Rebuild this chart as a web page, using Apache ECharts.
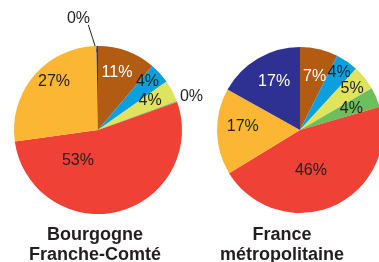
<!DOCTYPE html>
<html><head><meta charset="utf-8">
<script src="https://cdn.jsdelivr.net/npm/echarts@6/dist/echarts.min.js"></script>
<style>html,body{margin:0;padding:0;background:#fff}#c{width:379px;height:262px}</style>
</head><body><div id="c"></div>
<script>
// ---- data ----
const categories = ['Catégorie 1', 'Catégorie 2', 'Catégorie 3', 'Catégorie 4', 'Catégorie 5', 'Catégorie 6', 'Catégorie 7'];
const regions = ['Bourgogne\nFranche-Comté', 'France\nmétropolitaine'];
const bfcValues = [11.2, 4.0, 4.2, 0.2, 53.2, 26.9, 0.3];
const franceValues = [7.4, 4.4, 4.8, 3.9, 45.8, 16.8, 16.9];

// ---- styles ----
const colors = ['#b25b13', '#0aa0de', '#dfe35d', '#6dbf5c', '#ef4136', '#fbb634', '#2e3191'];
const labelColors = ['#ffffff', '#231f20', '#231f20', '#231f20', '#231f20', '#231f20', '#ffffff'];
const DARK = '#231f20';
const FONT = 'Liberation Sans, Arial, sans-serif';
const pies = [
  { center: [98, 130], radius: 84, titleX: 95,
    // label placement: [angle from 12 o'clock (deg), distance as fraction of radius]
    place: [[18.4, 0.715], [45.9, 0.82], [60.9, 0.71], [70.6, 1.18], [212.8, 0.44], [317.8, 0.78], [350.1, 1.35]],
    outside: [false, false, false, true, false, false, true],
    leader: [false, false, false, false, false, false, true] },
  { center: [300, 130], radius: 83, titleX: 282,
    place: [[15.2, 0.67], [34.1, 0.84], [51.7, 0.80], [67.3, 0.67], [165, 0.51], [273, 0.69], [331.8, 0.66]],
    outside: [false, false, false, false, false, false, false],
    leader: [false, false, false, false, false, false, false] }
];
const valueSets = [bfcValues, franceValues];

function polar(p, angDeg, frac) {
  const a = angDeg * Math.PI / 180;
  return [p.center[0] + p.radius * frac * Math.sin(a), p.center[1] - p.radius * frac * Math.cos(a)];
}

const chart = echarts.init(document.getElementById('c'), null, { renderer: 'canvas' });

const series = pies.map((p, si) => {
  const vals = valueSets[si];
  const total = vals.reduce((s, v) => s + v, 0);
  return {
    type: 'pie',
    center: p.center,
    radius: p.radius,
    startAngle: 90,
    clockwise: true,
    avoidLabelOverlap: false,
    silent: true,
    animation: false,
    itemStyle: { borderWidth: 0 },
    label: {
      fontFamily: FONT, fontSize: 16,
      formatter: (prm) => Math.round(prm.value / total * 100) + '%'
    },
    labelLine: { lineStyle: { color: DARK, width: 1 } },
    data: vals.map((v, i) => ({
      name: categories[i],
      value: v,
      itemStyle: { color: colors[i] },
      label: { position: p.outside[i] ? 'outside' : 'inside', color: p.outside[i] ? DARK : labelColors[i], show: true },
      labelLine: { show: p.leader[i], length: 10, length2: 0 }
    })),
    labelLayout: function (params) {
      const pl = pies[params.seriesIndex];
      const i = params.dataIndex;
      const pos = polar(pl, pl.place[i][0], pl.place[i][1]);
      const out = { x: pos[0], y: pos[1], align: 'center', verticalAlign: 'middle' };
      if (pl.leader[i]) {
        const vs = valueSets[params.seriesIndex];
        const tot = vs.reduce((s, v) => s + v, 0);
        let cum = 0; for (let k = 0; k < i; k++) cum += vs[k];
        const mid = (cum + vs[i] / 2) / tot * 360;
        const start = polar(pl, mid, 0.92);
        const end = [pos[0] + 9.8, pos[1] + 6.5];
        out.labelLinePoints = [start, [(start[0] + end[0]) / 2, (start[1] + end[1]) / 2], end];
      }
      return out;
    }
  };
});

chart.setOption({
  backgroundColor: '#ffffff',
  animation: false,
  title: pies.map((p, si) => ({
    text: regions[si],
    left: p.titleX,
    top: 225,
    textAlign: 'center',
    padding: 0,
    textStyle: { fontFamily: FONT, fontSize: 18, fontWeight: 'bold', lineHeight: 20, color: DARK }
  })),
  series: series
});
</script>
</body></html>
